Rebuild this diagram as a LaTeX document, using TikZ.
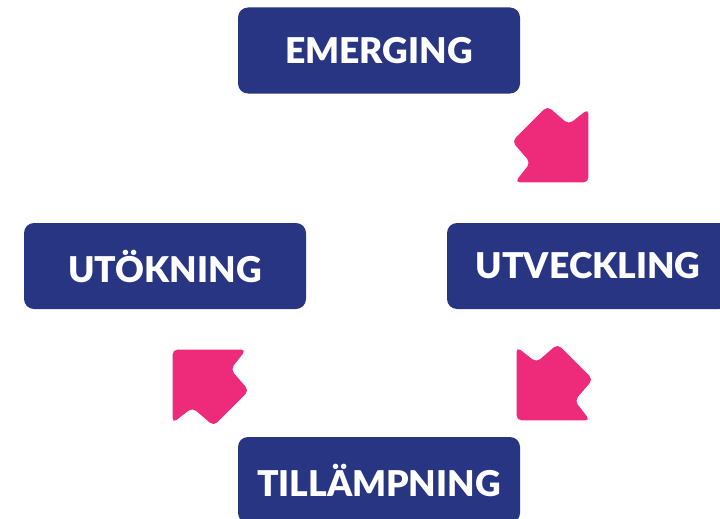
\documentclass[tikz,border=0pt]{standalone}
\usepackage{fontspec}
\setsansfont{Lato}[BoldFont={Lato Black}]
\definecolor{navy}{HTML}{283583}
\definecolor{pinkc}{HTML}{EE2A7B}
\tikzset{
  box/.style={fill=navy, rounded corners=10pt, minimum width=282pt, minimum height=86pt,
    text=white, font=\sffamily\bfseries\fontsize{35.5}{35.5}\selectfont, inner sep=0pt},
  blockarrow/.style={fill=pinkc, rounded corners=5pt}
}
\newcommand{\blockarrowpath}{(2,0) -- (-50,52) -- (-53,27) -- (-81,25) -- (-81,-25) -- (-53,-27) -- (-50,-52) -- cycle}
\begin{document}
\begin{tikzpicture}[x=1pt,y=-1pt]
\useasboundingbox (0,0) rectangle (720,519);
\clip (0,0) rectangle (720,519);
\node[box] (emerging) at (379,50.5) {EMERGING};
\node[box] (utveckling) at (588,266) {UTVECKLING};
\node[box] (utokning) at (165,266) {UTÖKNING};
\node[box] (tillampning) at (379,480) {TILLÄMPNING};
\fill[blockarrow, shift={(587,181)}, rotate=-45] \blockarrowpath;
\fill[blockarrow, shift={(518,419)}, rotate=-135] \blockarrowpath;
\fill[blockarrow, shift={(174,351)}, rotate=135] \blockarrowpath;
\end{tikzpicture}
\end{document}
